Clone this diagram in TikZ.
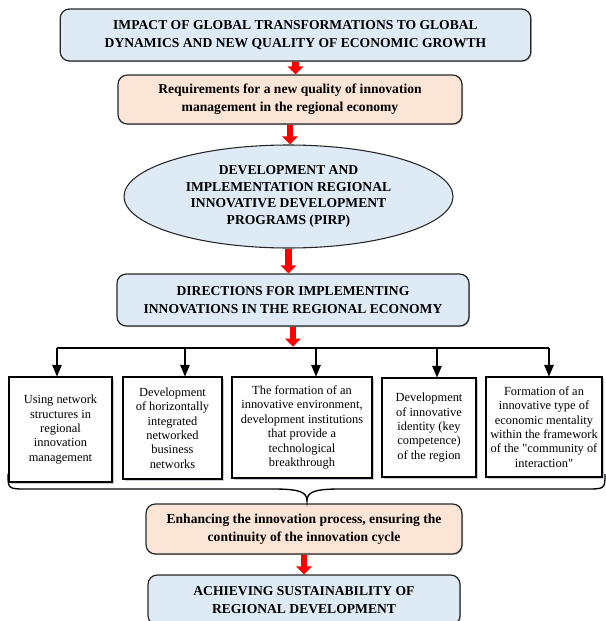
\documentclass[tikz,border=0pt]{standalone}
\usepackage{fontspec}
\setmainfont{Liberation Serif}[Ligatures=TeXOff]
\usetikzlibrary{arrows,arrows.meta,shapes.geometric,shadows}

\definecolor{boxblue}{HTML}{DEEBF7}
\definecolor{boxpink}{HTML}{FBE5D6}
\definecolor{shadowgray}{HTML}{8E9AAE}

\tikzset{
  headbox/.style={draw=black!85,line width=0.9pt,rounded corners=7pt,fill=boxblue,
    align=center,inner sep=0pt,font=\bfseries\fontsize{10.2}{13.2}\selectfont,
    drop shadow={shadow xshift=0.8pt,shadow yshift=-0.8pt,fill=black!45}},
  pinkbox/.style={headbox,fill=boxpink},
  progell/.style={ellipse,draw=black!85,line width=0.8pt,fill=boxblue,align=center,
    inner sep=0pt,font=\bfseries\fontsize{10.2}{12.6}\selectfont},
  dirbox/.style={draw=black,line width=0.8pt,fill=white,align=center,inner sep=0pt,
    font=\fontsize{9.3}{10.8}\selectfont,
    drop shadow={shadow xshift=1.5pt,shadow yshift=-1.5pt,fill=shadowgray}},
  redarrow/.style={draw=red,line width=5.2pt,-{Triangle[width=11.5pt,length=6pt]},red},
  flowline/.style={line width=1pt}
}

\begin{document}
\begin{tikzpicture}[x=0.75pt,y=-0.75pt,>=triangle 45]
\useasboundingbox (0,0) rectangle (606,621);
\clip (0,0) rectangle (606,621);

\node[headbox,minimum width=353pt,minimum height=39pt] (impact) at (295.5,35)
  {IMPACT OF GLOBAL TRANSFORMATIONS TO GLOBAL\\DYNAMICS AND NEW QUALITY OF ECONOMIC GROWTH};
\node[pinkbox,minimum width=258pt,minimum height=36.75pt] (require) at (290,99.5)
  {Requirements for a new quality of innovation\\management in the regional economy};
\node[progell,minimum width=246.75pt,minimum height=77.25pt] (pirp) at (288.5,196.5)
  {DEVELOPMENT AND\\IMPLEMENTATION REGIONAL\\INNOVATIVE DEVELOPMENT\\PROGRAMS (PIRP)};
\node[headbox,minimum width=264pt,minimum height=39pt] (directions) at (293,300)
  {DIRECTIONS FOR IMPLEMENTING\\INNOVATIONS IN THE REGIONAL ECONOMY};

\node[dirbox,minimum width=77.25pt,minimum height=78.75pt] (network) at (60.5,429.5)
  {Using network\\structures in\\regional\\innovation\\management};
\node[dirbox,minimum width=74.25pt,minimum height=76.5pt] (business) at (172.5,428)
  {Development\\of horizontally\\integrated\\networked\\business\\networks};
\node[dirbox,minimum width=105pt,minimum height=75.75pt] (environment) at (302,427.5)
  {The formation of an\\innovative environment,\\development institutions\\that provide a\\technological\\breakthrough};
\node[dirbox,minimum width=70.5pt,minimum height=74.25pt] (identity) at (429,427.5)
  {Development\\of innovative\\identity (key\\competence)\\of the region};
\node[dirbox,minimum width=87pt,minimum height=75pt] (mentality) at (544,427)
  {Formation of an\\innovative type of\\economic mentality\\within the framework\\of the "community of\\interaction"};

\node[pinkbox,minimum width=237pt,minimum height=37.5pt] (enhance) at (304,529)
  {Enhancing the innovation process, ensuring the\\continuity of the innovation cycle};
\node[headbox,minimum width=234pt,minimum height=37.5pt] (sustain) at (304,600)
  {ACHIEVING SUSTAINABILITY OF\\REGIONAL DEVELOPMENT};

\coordinate (t1) at (57,348);
\coordinate (t2) at (185,348);
\coordinate (t3) at (316,348);
\coordinate (t4) at (437,348);
\coordinate (t5) at (549,348);
\coordinate (tip) at (307,501);

\draw[redarrow] (impact.south) -- (impact.south |- require.north);
\draw[redarrow] (require.south) -- (require.south |- pirp.north);
\draw[redarrow] (pirp.south) -- (pirp.south |- directions.north);
\draw[redarrow] (directions.south) -- ([yshift=1pt]directions.south |- t1);
\draw[redarrow] (enhance.south) -- (enhance.south |- sustain.north);

\draw[flowline] (t1) -- (t5);
\draw[flowline,->] (t1) -- (t1 |- network.north);
\draw[flowline,->] (t2) -- (t2 |- business.north);
\draw[flowline,->] (t3) -- (t3 |- environment.north);
\draw[flowline,->] (t4) -- (t4 |- identity.north);
\draw[flowline,->] (t5) -- (t5 |- mentality.north);

\draw[flowline] (8,474) .. controls (8,489) .. (28,489) -- (273,489)
  .. controls (300,489) and (307,492) .. (tip)
  .. controls (307,492) and (314,489) .. (340,489) -- (585,489)
  .. controls (605,489) .. (605,474);
\end{tikzpicture}
\end{document}
